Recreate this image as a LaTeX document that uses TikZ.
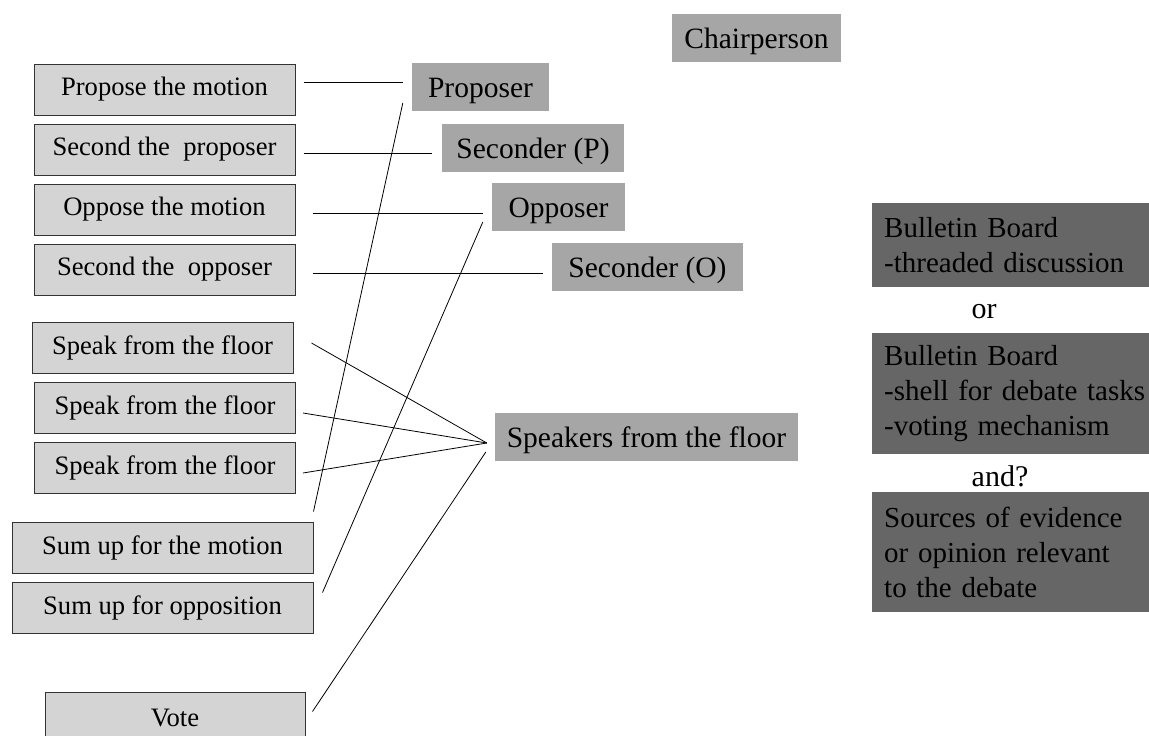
\documentclass[tikz,border=0pt]{standalone}
\usepackage{fontspec}
\setmainfont{Liberation Serif}
\usetikzlibrary{calc}
\definecolor{taskgray}{HTML}{D4D4D4}
\definecolor{rolegray}{HTML}{A6A6A6}
\definecolor{boardgray}{HTML}{666666}
\newcommand\boardfont{\fontsize{29}{35}\selectfont\spaceskip=0.2em plus 0.05em\relax}
\begin{document}
\begin{tikzpicture}[x=1pt,y=-1pt,
	task/.style={draw=black!80,line width=1pt,fill=taskgray,minimum width=#1,minimum height=51,
	inner sep=0,font=\fontsize{26.6}{30}\selectfont},
	task/.default=261,
	role/.style={fill=rolegray,minimum width=#1,minimum height=48,inner sep=0,
	text height=27,text depth=6,font=\fontsize{29.5}{34}\selectfont},
	board/.style={fill=boardgray,anchor=west,minimum height=#1,inner xsep=12,inner ysep=0,
	text width=300,align=left,font=\boardfont},
	link/.style={line width=0.8pt}]
\useasboundingbox (0,0) rectangle (1149,736);
\clip (0,0) rectangle (1149,736);
\node[task] (propose) at (164.5,89.5) {Propose the motion};
\node[task] (secprop) at (164.5,149.5) {Second the\ \ proposer};
\node[task] (oppose) at (164.5,209.5) {Oppose the motion};
\node[task] (secopp) at (164.5,269.5) {Second the\ \ opposer};
\node[task] (speak1) at (162.5,347.5) {Speak from the floor};
\node[task] (speak2) at (165,407.5) {Speak from the floor};
\node[task] (speak3) at (165,467.5) {Speak from the floor};
\node[task=301] (sumfor) at (162.5,547.5) {Sum up for the motion};
\node[task=301] (sumopp) at (162.5,607.5) {Sum up for opposition};
\node[task=260] (vote) at (175,717.5) {Vote};
\node[role=169] (chair) at (756.5,37.5) {Chairperson};
\node[role=137] (proposer) at (480.5,87) {Proposer};
\node[role=182] (secP) at (533,147.5) {Seconder (P)};
\node[role=133] (opposer) at (558.5,207) {Opposer};
\node[role=191] (secO) at (647.5,266.5) {Seconder (O)};
\node[role=303] (floor) at (646.5,437) {Speakers from the floor};
\node[board=84] (bb1) at (872,245) {Bulletin Board\\-threaded discussion};
\node[font=\fontsize{30}{35}\selectfont,anchor=base] (or) at (984,318) {or};
\node[board=121] (bb2) at (872,393.5) {Bulletin Board\\-shell for debate tasks\\-voting mechanism};
\node[font=\fontsize{30}{35}\selectfont,anchor=base] (and) at (1000,486) {and?};
\node[board=120] (src) at (872,552) {Sources of evidence\\or opinion relevant\\to the debate};
\draw[link] ($(propose.east)+(8,-7.5)$) -- ($(proposer.west)+(-9,-5)$);
\draw[link] ($(secprop.east)+(8,3.5)$) -- ($(secP.west)+(-10,5.5)$);
\draw[link] ($(oppose.east)+(17,3.5)$) -- ($(opposer.west)+(-9,6)$);
\draw[link] ($(secopp.east)+(17,3.5)$) -- ($(secO.west)+(-9,6.5)$);
\draw[link] ($(sumfor.north east)+(0,-10)$) -- ($(proposer.west)+(-9,16)$);
\draw[link] ($(sumopp.north east)+(9,11)$) -- ($(opposer.west)+(-9,15)$);
\draw[link] ($(vote.north east)+(7,20)$) -- ($(floor.west)+(-9,15)$);
\draw[link] ($(speak1.east)+(18,-4.5)$) -- ($(floor.west)+(-8,6)$);
\draw[link] ($(speak2.east)+(7,5.5)$) -- ($(floor.west)+(-8,6)$);
\draw[link] ($(speak3.east)+(7,5.5)$) -- ($(floor.west)+(-8,6)$);
\end{tikzpicture}
\end{document}
